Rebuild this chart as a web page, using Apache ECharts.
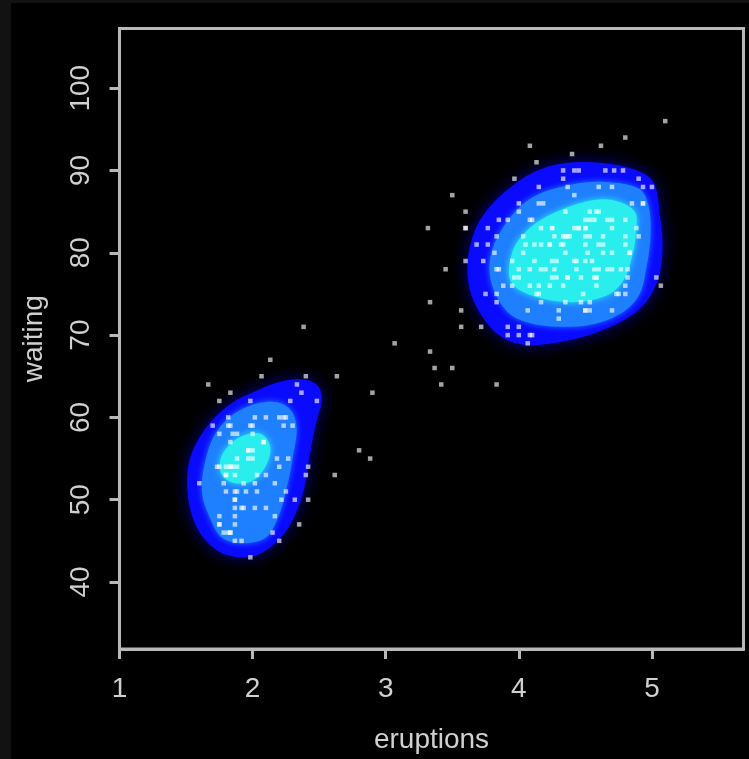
<!DOCTYPE html>
<html><head><meta charset="utf-8">
<script src="https://cdn.jsdelivr.net/npm/echarts@6/dist/echarts.min.js"></script>
<style>html,body{margin:0;padding:0;background:#000;}#c{width:749px;height:759px;}</style>
</head><body><div id="c"></div>
<script>
// Old Faithful geyser observations (eruption duration, waiting time)
const eruptions=[3.600,1.800,3.333,2.283,4.533,2.883,4.700,3.600,1.950,4.350,
1.833,3.917,4.200,1.750,4.700,2.167,1.750,4.800,1.600,4.250,
1.800,1.750,3.450,3.067,4.533,3.600,1.967,4.083,3.850,4.433,
4.300,4.467,3.367,4.033,3.833,2.017,1.867,4.833,1.833,4.783,
4.350,1.883,4.567,1.750,4.533,3.317,3.833,2.100,4.633,2.000,
4.800,4.716,1.833,4.833,1.733,4.883,3.717,1.667,4.567,4.317,
2.233,4.500,1.750,4.800,1.817,4.400,4.167,4.700,2.067,4.700,
4.033,1.967,4.500,4.000,1.983,5.067,2.017,4.567,3.883,3.600,
4.133,4.333,4.100,2.633,4.067,4.933,3.950,4.517,2.167,4.000,
2.200,4.333,1.867,4.817,1.833,4.300,4.667,3.750,1.867,4.900,
2.483,4.367,2.100,4.500,4.050,1.867,4.700,1.783,4.850,3.683,
4.733,2.300,4.900,4.417,1.700,4.633,2.317,4.600,1.817,4.417,
2.617,4.067,4.250,1.967,4.600,3.767,1.917,4.500,2.267,4.650,
1.867,4.167,2.800,4.333,1.833,4.383,1.883,4.933,2.033,3.733,
4.233,2.233,4.533,4.817,4.333,1.983,4.633,2.017,5.100,1.800,
5.033,4.000,2.400,4.600,3.567,4.000,4.500,4.083,1.800,3.967,
2.200,4.150,2.000,3.833,3.500,4.583,2.367,5.000,1.933,4.617,
1.917,2.083,4.583,3.333,4.167,4.333,4.500,2.417,4.000,4.167,
1.883,4.583,4.250,3.767,2.033,4.433,4.083,1.833,4.417,2.183,
4.800,1.833,4.800,4.100,3.966,4.233,3.500,4.366,2.250,4.667,
2.100,4.350,4.133,1.867,4.600,1.783,4.367,3.850,1.933,4.500,
2.383,4.700,1.867,3.833,3.417,4.233,2.400,4.800,2.000,4.150,
1.867,4.267,1.750,4.483,4.000,4.117,4.083,4.267,3.917,4.550,
4.083,2.417,4.183,2.217,4.450,1.883,1.850,4.283,3.950,2.333,
4.150,2.350,4.933,2.900,4.583,3.833,2.083,4.367,2.133,4.350,
2.200,4.450,3.567,4.500,4.150,3.817,3.917,4.450,2.000,4.283,
4.767,4.533,1.850,4.250,1.983,2.250,4.750,4.117,2.150,4.417,
1.817,4.467];
const waiting=[79,54,74,62,85,55,88,85,51,85,
54,84,78,47,83,52,62,84,52,79,
51,47,78,69,74,83,55,76,78,79,
73,77,66,80,74,52,48,80,59,90,
80,58,84,58,73,83,64,53,82,59,
75,90,54,80,54,83,71,64,77,81,
59,84,48,82,60,92,78,78,65,73,
82,56,79,71,62,76,60,78,76,83,
75,82,70,65,73,88,76,80,48,86,
60,90,50,78,63,72,84,75,51,82,
62,88,49,83,81,47,84,52,86,81,
75,59,89,79,59,81,50,85,59,87,
53,69,77,56,88,81,45,82,55,90,
45,83,56,89,46,82,51,86,53,79,
81,60,82,77,76,59,80,49,96,53,
77,77,65,81,71,70,81,93,53,89,
45,86,58,78,66,76,63,88,52,93,
49,57,77,68,81,81,73,50,85,74,
55,77,83,83,51,78,84,46,83,55,
81,57,76,84,77,81,87,77,51,78,
60,82,91,53,78,46,77,84,49,83,
71,80,49,75,64,76,53,94,55,76,
50,82,54,75,78,79,78,78,70,79,
70,54,86,50,90,54,54,77,79,64,
75,47,86,63,85,82,57,82,67,74,
54,83,73,73,88,80,71,83,56,79,
78,84,58,83,43,60,75,81,46,90,
46,74];

const xTicks=[1,2,3,4,5];
const yTicks=[40,50,60,70,80,90,100];

// density band outlines (eruptions, waiting)
const lowerOuter=[[2.30,64.6],[2.42,64.5],[2.50,63.6],[2.52,62.0],[2.48,59.5],[2.43,55.5],[2.39,51.5],[2.31,47.8],[2.20,45.2],[2.02,43.2],[1.80,43.3],[1.64,45.2],[1.55,47.8],[1.51,51.2],[1.53,55.0],[1.64,58.5],[1.83,61.6],[2.05,63.4],[2.18,64.2]];
const lowerMid=[[2.15,61.9],[2.28,61.0],[2.33,58.8],[2.30,55.0],[2.25,51.0],[2.19,47.8],[2.10,45.4],[1.93,44.7],[1.77,45.4],[1.68,47.8],[1.62,51.0],[1.65,55.0],[1.74,58.5],[1.92,61.0]];
const lowerInner=[[2.06,58.0],[2.13,56.6],[2.11,54.5],[2.01,52.4],[1.87,52.0],[1.77,53.0],[1.76,55.0],[1.84,56.9],[1.95,57.9]];
const upperOuter=[[4.55,91.0],[4.85,90.2],[5.01,88.6],[5.06,84.5],[5.08,80.5],[5.04,76.5],[4.91,73.2],[4.66,70.8],[4.36,69.3],[4.05,68.8],[3.85,70.0],[3.69,73.2],[3.62,76.5],[3.63,80.5],[3.73,84.5],[3.99,88.6],[4.25,90.6]];
const upperMid=[[4.65,88.6],[4.90,87.8],[4.97,86.0],[4.99,82.5],[4.96,78.4],[4.89,74.5],[4.69,72.0],[4.35,71.0],[3.99,72.0],[3.84,74.5],[3.78,78.4],[3.86,82.5],[4.08,86.5],[4.40,88.3]];
const upperInner=[[4.70,86.4],[4.87,85.0],[4.88,82.5],[4.85,79.5],[4.78,76.5],[4.66,74.8],[4.40,74.0],[4.10,74.8],[3.94,76.5],[3.95,80.0],[4.05,82.5],[4.22,84.5],[4.50,86.2]];

const bands=[lowerOuter,upperOuter,lowerMid,upperMid,lowerInner,upperInner];
const bandLevel=[0,0,1,1,2,2];
const levelColors=['#0a0aff','#1f80ff','#2aeeee'];

const chart=echarts.init(document.getElementById('c'),null,{renderer:'canvas'});
const txt='#d0d0d0', frame='#b8b8b8', font='Liberation Sans';
chart.setOption({
  animation:false,
  backgroundColor:'#000',
  graphic:[
    {type:'rect',left:0,top:0,shape:{width:11,height:759},style:{fill:'#121212'},z:-1},
    {type:'rect',left:0,top:0,shape:{width:749,height:3},style:{fill:'#121212'},z:-1}
  ],
  grid:{left:119.5,right:5.5,top:28.5,bottom:107,show:true,borderColor:frame,borderWidth:3,backgroundColor:'transparent'},
  xAxis:{type:'value',min:1,max:5.688,
    name:'eruptions',nameLocation:'middle',nameGap:77,
    nameTextStyle:{color:txt,fontSize:28,fontFamily:font},
    axisLine:{show:true,lineStyle:{color:frame,width:3}},
    axisTick:{show:true,length:10,customValues:xTicks,lineStyle:{color:frame,width:3}},
    axisLabel:{customValues:xTicks,color:txt,fontSize:28,fontFamily:font,margin:26},
    splitLine:{show:false}},
  yAxis:{type:'value',min:31.86,max:107.25,
    name:'waiting',nameLocation:'middle',nameGap:71,nameRotate:90,
    nameTextStyle:{color:txt,fontSize:28,fontFamily:font},
    axisLine:{show:true,lineStyle:{color:frame,width:3}},
    axisTick:{show:true,length:10,customValues:yTicks,lineStyle:{color:frame,width:3}},
    axisLabel:{customValues:yTicks,rotate:90,color:txt,fontSize:28,fontFamily:font,margin:24},
    splitLine:{show:false}},
  series:[
    {type:'custom',coordinateSystem:'cartesian2d',silent:true,clip:true,
     data:bands.map((b,i)=>[i]),
     renderItem:function(params,api){
       const i=api.value(0);
       const pts=bands[i].map(p=>api.coord(p));
       const lv=bandLevel[i];
       return {type:'polygon',shape:{points:pts,smooth:0.35},
         style:{fill:levelColors[lv],
           shadowBlur:lv===0?16:6,
           shadowColor:lv===0?'rgba(0,0,170,0.8)':levelColors[lv]}};
     }},
    {type:'scatter',silent:true,symbol:'rect',symbolSize:4.5,
     data:eruptions.map((e,i)=>[e,waiting[i]]),
     itemStyle:{color:'rgba(255,255,255,0.8)'}}
  ]
});
</script></body></html>
